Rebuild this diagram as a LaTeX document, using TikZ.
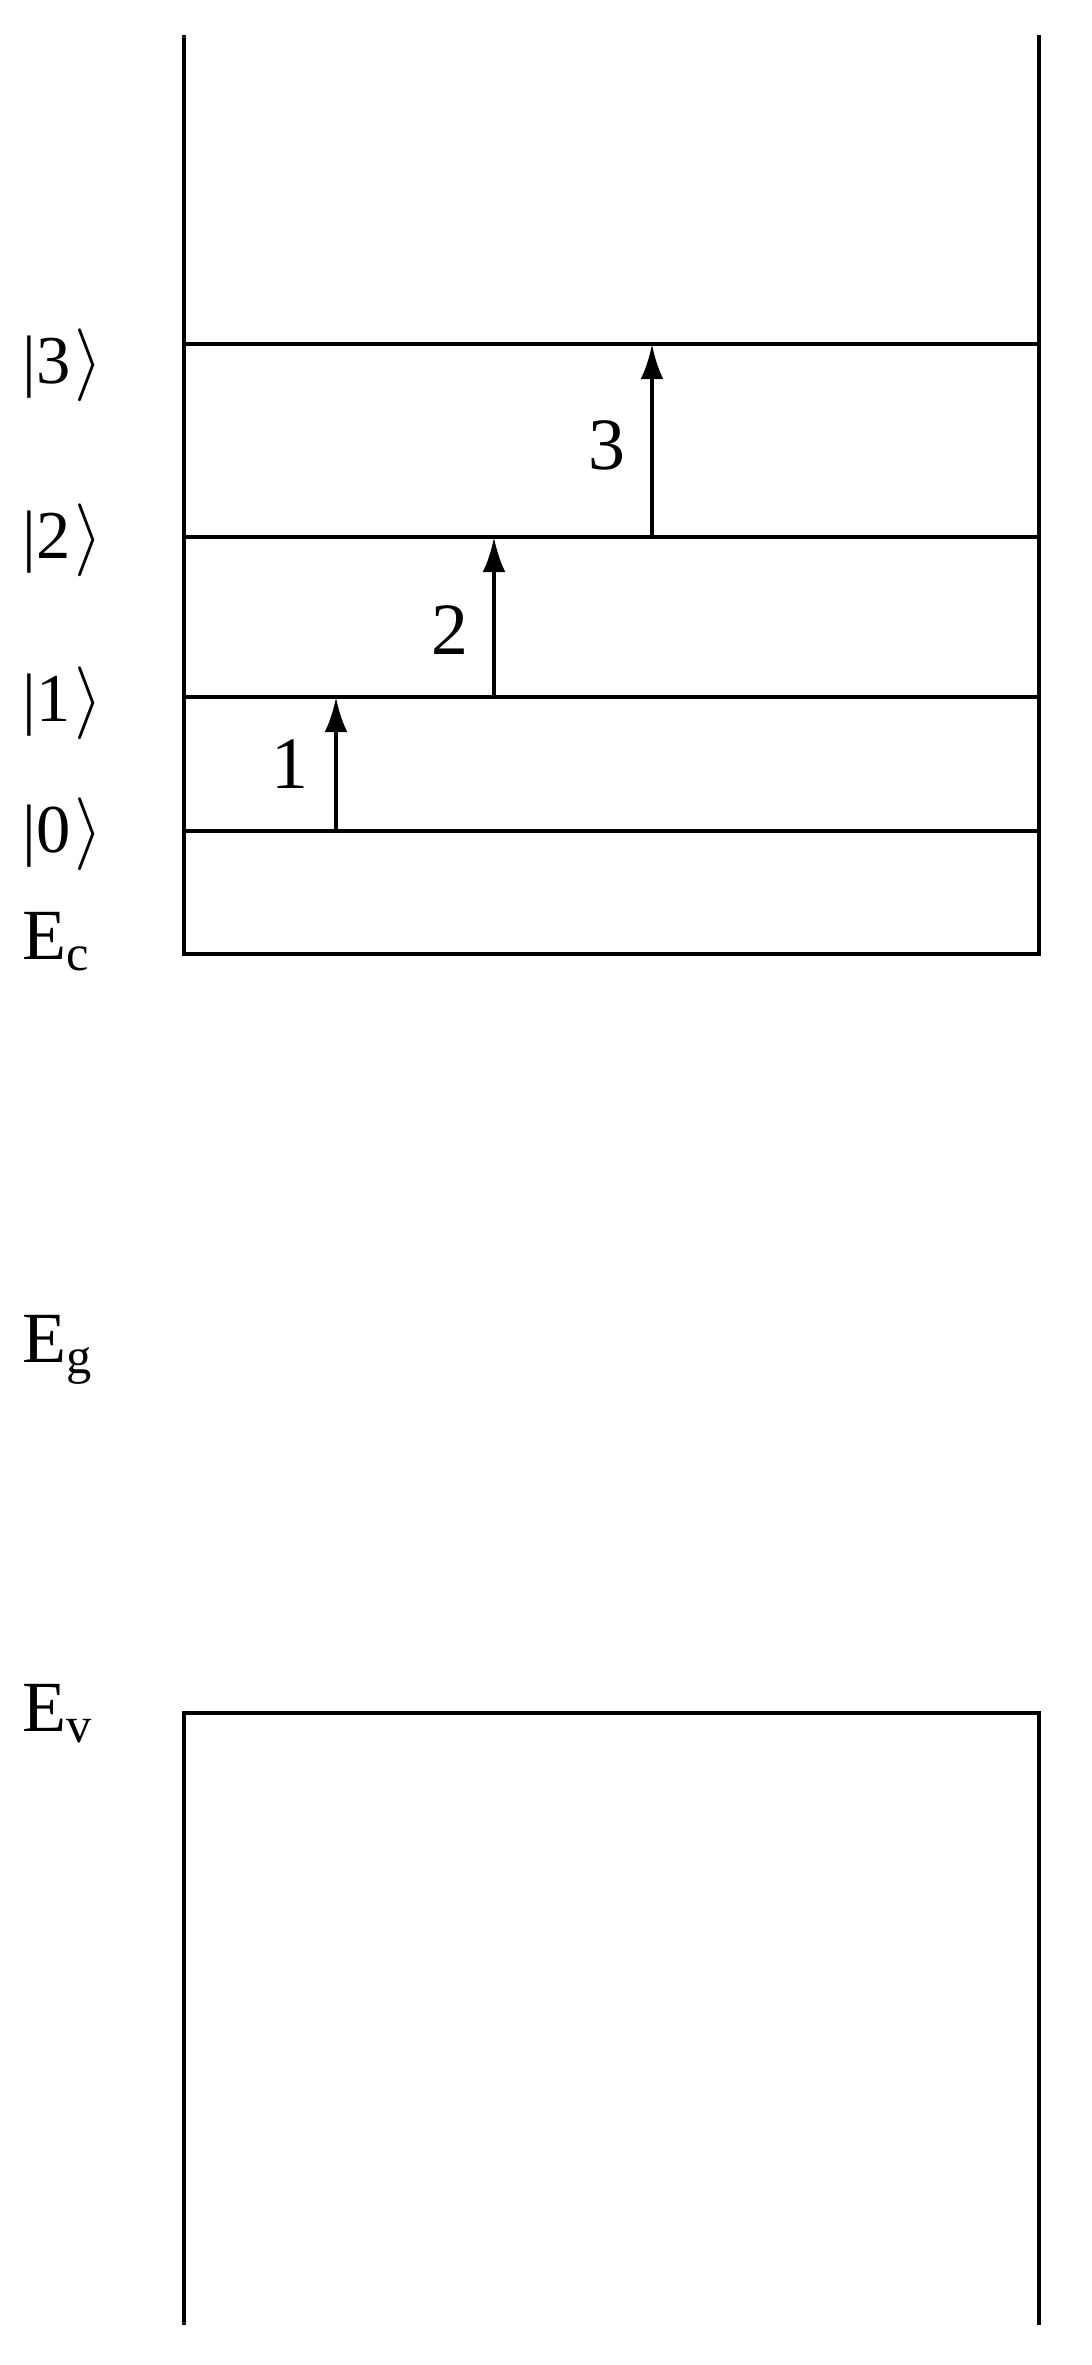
\documentclass[tikz,border=0pt]{standalone}
\usepackage{fontspec}
\setmainfont{Liberation Serif}
\usetikzlibrary{arrows.meta}

\newcommand{\ketlbl}[1]{|#1\kern1pt$\big\rangle$}

\begin{document}
\begin{tikzpicture}[>={Latex[length=10pt,width=6.5pt]},
    every node/.style={inner sep=0pt},
    level/.style={line width=1.3pt},
    wall/.style={line width=1.4pt},
    ketlabel/.style={anchor=west, font=\fontsize{19.5}{23}\selectfont},
    bandlabel/.style={anchor=base west, font=\fontsize{20.5}{24}\selectfont},
    steplabel/.style={anchor=base, font=\fontsize{21}{25}\selectfont}]

    \useasboundingbox (0,0) rectangle (10.91,23.65);

    % conduction band well
    \draw[wall] (1.84,23.30) -- (1.84,14.11) -- (10.39,14.11) -- (10.39,23.30);

    % bound states in the well
    \foreach \n/\y/\b in {0/15.34/15.31, 1/16.68/16.62, 2/18.28/18.25, 3/20.21/20.00} {
      \draw[level] (1.84,\y) -- (10.39,\y);
      \node[ketlabel] (ket\n) at (0.22,\b) {\ketlbl{\n}};
    }

    % transitions between neighbouring states
    \coordinate (from1) at (3.36,15.34);
    \coordinate (to1)   at (3.36,16.68);
    \coordinate (from2) at (4.94,16.68);
    \coordinate (to2)   at (4.94,18.28);
    \coordinate (from3) at (6.52,18.28);
    \coordinate (to3)   at (6.52,20.21);

    \draw[->, level] (from1) -- (to1);
    \draw[->, level] (from2) -- (to2);
    \draw[->, level] (from3) -- (to3);

    \node[steplabel] (step1) at (2.90,15.76) {1};
    \node[steplabel] (step2) at (4.50,17.10) {2};
    \node[steplabel] (step3) at (6.07,18.95) {3};

    % valence band
    \draw[wall] (1.84,0.40) -- (1.84,6.52) -- (10.39,6.52) -- (10.39,0.40);

    \node[bandlabel] (Ec) at (0.22,14.05) {E\textsubscript{c}};
    \node[bandlabel] (Eg) at (0.22,10.02) {E\textsubscript{g}};
    \node[bandlabel] (Ev) at (0.22,6.33) {E\textsubscript{v}};

\end{tikzpicture}
\end{document}
